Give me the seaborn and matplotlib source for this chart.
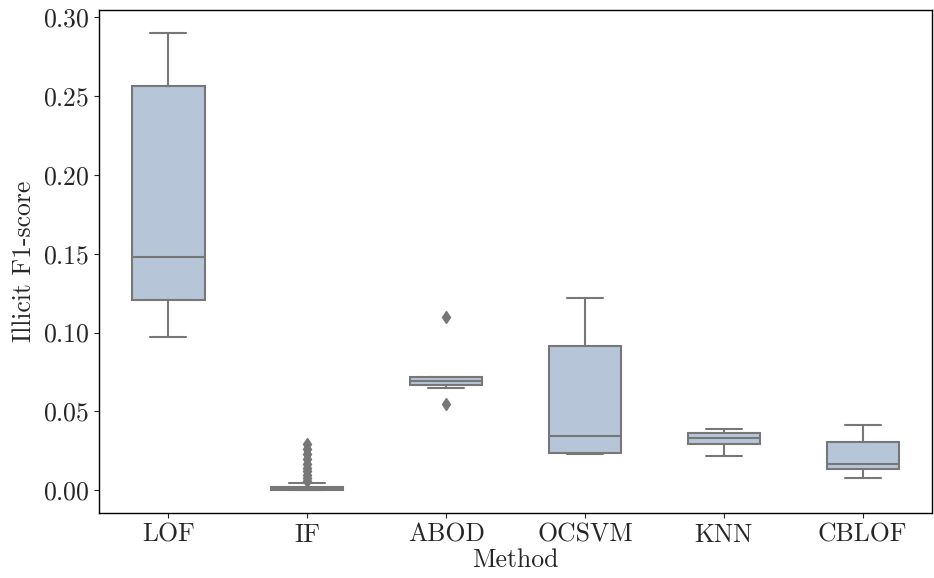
import numpy as np
import pandas as pd
import seaborn as sns
import matplotlib.pyplot as plt

sns.set_style("ticks")
plt.rcParams.update({
    "font.family": "cmr10",
    "mathtext.fontset": "cm",
    "axes.formatter.use_mathtext": True,
    "axes.unicode_minus": False,
    "axes.edgecolor": "black",
    "xtick.major.size": 3.5,
    "ytick.major.size": 3.5,
})

methods = ["LOF", "IF", "ABOD", "OCSVM", "KNN", "CBLOF"]

# F1 scores per run
lof = [0.0975, 0.1204, 0.1478, 0.2563, 0.2900]
iso_forest = [0.0000, 0.0000, 0.0001, 0.0001, 0.0002, 0.0002, 0.0002, 0.0003,
              0.0003, 0.0003, 0.0003, 0.0004, 0.0004, 0.0005, 0.0006, 0.0007,
              0.0008, 0.0009, 0.0010, 0.0010, 0.0011, 0.0012, 0.0012, 0.0013,
              0.0013, 0.0014, 0.0015, 0.0016, 0.0017, 0.0018, 0.0019, 0.0020,
              0.0021, 0.0022, 0.0023, 0.0024, 0.0026, 0.0045,
              0.0060, 0.0080, 0.0100, 0.0120, 0.0140, 0.0170, 0.0200, 0.0230,
              0.0260, 0.0295]
abod = [0.0550, 0.0650, 0.0665, 0.0680, 0.0695, 0.0710, 0.0718, 0.0720, 0.1100]
ocsvm = [0.0229, 0.0238, 0.0342, 0.0915, 0.1221]
knn = [0.0217, 0.0291, 0.0329, 0.0361, 0.0390]
cblof = [0.0076, 0.0136, 0.0164, 0.0304, 0.0414]

scores = [lof, iso_forest, abod, ocsvm, knn, cblof]
df = pd.DataFrame({
    "Method": np.repeat(methods, [len(s) for s in scores]),
    "f1": np.concatenate(scores),
})

gray = "#777777"
fs = 18.5

fig, ax = plt.subplots(figsize=(9.34, 5.78), dpi=100)
fig.subplots_adjust(left=0.106, right=0.998, top=0.983, bottom=0.112)

sns.boxplot(data=df, x="Method", y="f1", order=methods, color="lightsteelblue",
            width=0.52, linewidth=1.5, fliersize=6, linecolor=gray,
            flierprops=dict(marker="d", markerfacecolor=gray, markeredgecolor=gray),
            ax=ax)

ax.set_xlabel("Method", fontsize=fs, labelpad=1)
ax.set_ylabel("Illicit F1-score", fontsize=fs, labelpad=5)
ax.tick_params(labelsize=fs)
for s in ax.spines.values():
    s.set_linewidth(1.0)

plt.savefig("out.png", dpi=100)
